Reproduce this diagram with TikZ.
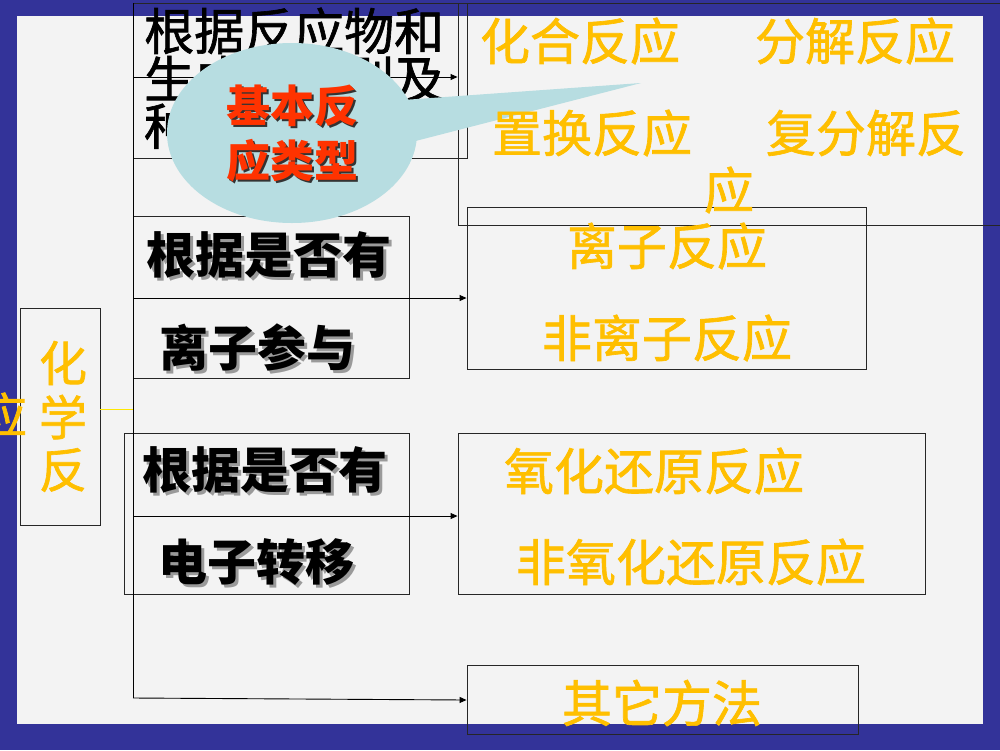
\documentclass[tikz,border=0pt]{standalone}
\usepackage{fontspec}
\setmainfont{Noto Sans CJK SC}
\newfontfamily\ofont{Noto Sans CJK SC}[FakeBold=1.3]
\usetikzlibrary{arrows.meta,shapes.geometric}
\definecolor{navy}{HTML}{333399}
\definecolor{panel}{HTML}{F3F3F3}
\definecolor{orng}{HTML}{FFBF00}
\definecolor{redt}{HTML}{FF3300}
\definecolor{callc}{HTML}{B7DDE1}
\definecolor{shgray}{HTML}{9A9A9A}
\newcommand\shnode[5]{%
  \node[#1,text=shgray] at (#3+3,#4+3) {#5};
  \node[#1] (#2) at (#3,#4) {#5};}
\begin{document}
\begin{tikzpicture}[x=1pt,y=-1pt,
  box/.style={draw=black!85,line width=0.9pt,inner sep=0pt,minimum width=#1},
  box/.default=10,
  arr/.style={draw=black,line width=0.9pt,-{Triangle[length=7pt,width=6pt]}},
  otext/.style={text=orng,inner sep=0pt,font=\ofont\fontsize{50}{52}\selectfont},
  btext/.style={text=black,inner sep=0pt,font=\bfseries\fontsize{49}{50}\selectfont},
  ktext/.style={text=black,inner sep=0pt,font=\ofont\fontsize{50}{52}\selectfont},
  rtext/.style={text=redt,inner sep=0pt,align=center,font=\bfseries\fontsize{44}{55}\selectfont}]
\useasboundingbox (0,0) rectangle (1000,750);
% background
\fill[navy] (0,0) rectangle (1000,750);
\fill[panel] (17,16) rectangle (983,724);
% boxes
\node[box=334,minimum height=155] (tl) at (300,80.5) {};
\node[box=547,minimum height=222] (tr) at (731.5,114) {};
\node[box=276,minimum height=162] (b2l) at (271,297) {};
\node[box=399,minimum height=162] (b2r) at (666.5,288.5) {};
\node[box=285,minimum height=161] (b3l) at (266.5,513.5) {};
\node[box=467,minimum height=161] (b3r) at (691.5,513.5) {};
\node[box=391,minimum height=69] (b4) at (662.5,699.5) {};
\node[box=80,minimum height=217] (lb) at (60,416.5) {};
% trunk and connectors
\coordinate (ttop) at (133,3);
\coordinate (t1) at (133,77);
\coordinate (t2) at (133,298);
\coordinate (t3) at (133,516);
\coordinate (t4) at (133,698);
\draw[black,line width=0.9pt] (ttop) -- (t4);
\draw[arr] (t1) -- (tr.west |- t1);
\draw[arr] (t2) -- (b2r.west |- t2);
\draw[arr] (t3) -- (b3r.west |- t3);
\draw[arr] (t4) -- (b4.west |- 0,700);
\draw[yellow!90!orange,line width=0.8pt] (lb.east |- 0,409) -- (t1 |- 0,409);
% top-left text
\node[ktext,anchor=west] (tl1) at (144,31) {根据反应物和};
\node[ktext,anchor=west] (tl2) at (144,79) {生成物类别及};
\node[ktext,anchor=west] (tl3) at (144,126) {种类};
% callout
\node[ellipse,fill=callc,minimum width=250,minimum height=180,inner sep=0pt] (co) at (292,133) {};
\coordinate (tip) at (641,83);
\fill[callc] (403,100) -- (tip) -- (400,145) -- cycle;
\node[rtext,text=black!80] at (294.5,135.5) {基本反\\应类型};
\node[rtext] (cot) at (292,133) {基本反\\应类型};
% right top texts
\node[otext] (r1) at (580,41) {化合反应};
\node[otext] (r2) at (855,41) {分解反应};
\node[otext] (r3) at (592,133) {置换反应};
\node[otext] (r4) at (866,133) {复分解反};
\node[otext] (r5) at (729,190) {应};
% box 2
\shnode{btext}{b2a}{269}{255}{根据是否有}
\shnode{btext}{b2b}{257}{348}{离子参与}
\node[otext] (b2c) at (667,246) {离子反应};
\node[otext] (b2d) at (667,338) {非离子反应};
% box 3
\shnode{btext}{b3a}{265}{470}{根据是否有}
\shnode{btext}{b3b}{256}{562}{电子转移}
\node[otext] (b3c) at (654,471) {氧化还原反应};
\node[otext] (b3d) at (691,562) {非氧化还原反应};
% box 4
\node[otext] (b4t) at (662,703) {其它方法};
% left vertical label
\node[otext,font=\ofont\fontsize{48}{50}\selectfont] (la) at (63,363) {化};
\node[otext,font=\ofont\fontsize{48}{50}\selectfont] (lb2) at (63,417) {学};
\node[otext,font=\ofont\fontsize{48}{50}\selectfont] (lc) at (63,470) {反};
\node[otext,font=\ofont\fontsize{48}{50}\selectfont] (ld) at (3,415) {应};
\end{tikzpicture}
\end{document}
